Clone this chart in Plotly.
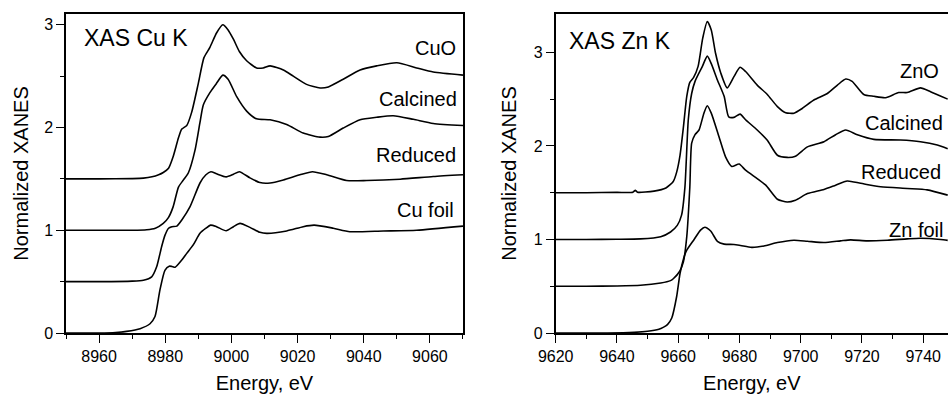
import plotly.graph_objects as go
from plotly.subplots import make_subplots

# ---------------- Cu K edge data (energy eV, normalized XANES, offset included) ----------------
cu_cuo_E = [8950, 8960, 8970, 8973.4, 8976, 8978, 8979.4, 8981, 8982.4, 8984, 8985, 8986.5, 8988, 8990,
            8991.7, 8993.5, 8995.5, 8997.4, 8999, 9000.6, 9002.4, 9004.6, 9007.6, 9009.6, 9011.7,
            9015.7, 9018.7, 9022.7, 9026.8, 9029.3, 9033.8, 9038.9, 9043.9, 9050, 9056, 9061, 9070]
cu_cuo_y = [1.50, 1.50, 1.503, 1.507, 1.52, 1.54, 1.562, 1.604, 1.718, 1.90, 1.985, 2.02, 2.15, 2.43,
            2.68, 2.78, 2.92, 3.00, 2.95, 2.86, 2.74, 2.65, 2.58, 2.58, 2.60,
            2.56, 2.50, 2.42, 2.385, 2.395, 2.47, 2.56, 2.60, 2.63, 2.58, 2.54, 2.51]

cu_calc_E = [8950, 8960, 8970, 8974.4, 8977, 8979.4, 8981, 8982.4, 8984, 8985.5, 8987, 8989, 8990.5,
             8991.5, 8993.5, 8995.5, 8997.4, 8999, 9001.6, 9004.6, 9007.6, 9011.7, 9016.7, 9021.7,
             9026.8, 9029.3, 9033.8, 9038.9, 9043.9, 9048.9, 9055, 9061, 9070]
cu_calc_y = [1.00, 1.00, 1.00, 1.005, 1.02, 1.067, 1.126, 1.23, 1.42, 1.49, 1.56, 1.78, 2.05,
             2.22, 2.34, 2.43, 2.51, 2.47, 2.30, 2.16, 2.085, 2.075, 2.03, 1.946,
             1.907, 1.913, 1.995, 2.076, 2.10, 2.115, 2.08, 2.04, 2.02]

cu_red_E = [8950, 8960, 8970, 8973.4, 8975.9, 8977.4, 8978.9, 8979.9, 8981, 8982, 8983.5, 8985,
            8987.5, 8990.5, 8992.3, 8993.8, 8995.5, 8998.4, 9000.6, 9002.4, 9005.6, 9008.6, 9011.7,
            9015.7, 9020.7, 9024.5, 9028.8, 9034.8, 9040.9, 9051, 9061, 9070]
cu_red_y = [0.50, 0.50, 0.505, 0.514, 0.547, 0.644, 0.84, 0.95, 1.02, 1.035, 1.04, 1.10,
            1.23, 1.46, 1.54, 1.57, 1.55, 1.52, 1.545, 1.57, 1.51, 1.464, 1.46,
            1.49, 1.54, 1.57, 1.54, 1.484, 1.484, 1.497, 1.523, 1.54]

cu_foil_E = [8950, 8960, 8965, 8968.3, 8972.4, 8975.4, 8976.9, 8978.4, 8979.9, 8981.2, 8982, 8983,
             8985, 8986.5, 8988.5, 8990.5, 8992.3, 8993.7, 8995.5, 8998.4, 9000.6, 9002.6, 9005.6,
             9008.6, 9010.7, 9016.7, 9021.7, 9025, 9030.8, 9035.8, 9045.9, 9056, 9070]
cu_foil_y = [0.00, 0.00, 0.005, 0.016, 0.042, 0.09, 0.16, 0.42, 0.61, 0.65, 0.648, 0.64,
             0.71, 0.775, 0.86, 0.97, 1.02, 1.05, 1.035, 0.995, 1.035, 1.067, 1.028,
             0.98, 0.97, 0.993, 1.035, 1.05, 1.02, 0.986, 0.993, 1.00, 1.04]

# ---------------- Zn K edge data ----------------
zn_zno_E = [9620, 9630, 9640, 9645.2, 9646, 9646.7, 9652.1, 9656, 9658.4, 9659.5, 9660.6, 9661.7,
            9662.8, 9663.8, 9665, 9666.5, 9668, 9669.5, 9670.8, 9672.2, 9673.9, 9676.0, 9678.2,
            9680.2, 9682, 9685.8, 9689.1, 9692.4, 9695.1, 9697.8, 9700.5, 9704.3, 9708.7, 9712,
            9714.7, 9716.8, 9720.6, 9723.9, 9727.7, 9732, 9734.8, 9739.1, 9742.4, 9748]
zn_zno_y = [1.50, 1.50, 1.503, 1.505, 1.525, 1.505, 1.517, 1.55, 1.62, 1.72, 1.90, 2.20,
            2.53, 2.68, 2.73, 2.85, 3.15, 3.33, 3.24, 2.99, 2.78, 2.62, 2.74,
            2.84, 2.795, 2.65, 2.55, 2.42, 2.355, 2.35, 2.40, 2.49, 2.56, 2.65,
            2.715, 2.69, 2.55, 2.53, 2.515, 2.57, 2.57, 2.62, 2.58, 2.50]

zn_calc_E = [9620, 9630, 9640, 9647.7, 9654.3, 9657.5, 9659.7, 9661.1, 9662.2, 9663.3, 9664.4,
             9665.5, 9667.9, 9669.5, 9670.8, 9672.8, 9675, 9676.5, 9678.2, 9680.2, 9682, 9685.8,
             9689.1, 9692.4, 9695.6, 9698.3, 9702.2, 9707.6, 9711.4, 9714.7, 9718.5, 9723.9,
             9732.6, 9739.1, 9744.6, 9748]
zn_calc_y = [1.00, 1.00, 1.002, 1.006, 1.03, 1.08, 1.15, 1.26, 1.56, 2.28, 2.56,
             2.69, 2.85, 2.96, 2.88, 2.705, 2.53, 2.31, 2.305, 2.34, 2.28, 2.17,
             2.06, 1.90, 1.877, 1.89, 1.99, 2.045, 2.12, 2.17, 2.12, 2.07,
             2.063, 2.045, 2.01, 1.97]

zn_red_E = [9620, 9630, 9640, 9647.7, 9654.3, 9657.5, 9658.4, 9660.5, 9661.7, 9662.8, 9663.8,
            9664.4, 9665.5, 9666.8, 9668.4, 9669.5, 9670.8, 9673.3, 9675.5, 9677.5, 9679.9,
            9682, 9685.8, 9688.6, 9692.4, 9695.6, 9698.3, 9702.2, 9707.6, 9711.4, 9715.2,
            9719.6, 9726.1, 9734.8, 9741.3, 9748]
zn_red_y = [0.50, 0.50, 0.503, 0.51, 0.535, 0.56, 0.58, 0.66, 0.76, 1.03, 1.56,
            2.03, 2.12, 2.17, 2.35, 2.43, 2.35, 2.10, 1.88, 1.78, 1.806,
            1.74, 1.65, 1.58, 1.43, 1.40, 1.42, 1.49, 1.535, 1.58, 1.625,
            1.60, 1.563, 1.545, 1.53, 1.474]

zn_foil_E = [9620, 9630, 9637, 9645.6, 9650, 9653.7, 9655.1, 9656.5, 9657.9, 9659.5, 9660.6,
             9661.8, 9662.8, 9665.2, 9667.3, 9668.7, 9670.6, 9672.8, 9675, 9678.2, 9680.4,
             9684, 9688, 9692.4, 9697.8, 9702.2, 9707.6, 9713, 9716.3, 9721.7, 9728.3,
             9734.8, 9739.1, 9745.7, 9748]
zn_foil_y = [0.00, 0.00, 0.00, 0.007, 0.018, 0.04, 0.06, 0.09, 0.16, 0.39, 0.636,
             0.80, 0.885, 1.00, 1.10, 1.13, 1.09, 0.98, 0.95, 0.946, 0.935,
             0.915, 0.93, 0.967, 0.992, 0.981, 0.967, 0.985, 0.996, 0.985, 0.992,
             1.006, 1.013, 1.00, 0.99]

cu_series = [(cu_cuo_E, cu_cuo_y, "CuO"), (cu_calc_E, cu_calc_y, "Calcined"),
             (cu_red_E, cu_red_y, "Reduced"), (cu_foil_E, cu_foil_y, "Cu foil")]
zn_series = [(zn_zno_E, zn_zno_y, "ZnO"), (zn_calc_E, zn_calc_y, "Calcined"),
             (zn_red_E, zn_red_y, "Reduced"), (zn_foil_E, zn_foil_y, "Zn foil")]

# label positions (energy of right edge, y)
cu_label_x = [9068.5, 9068.8, 9068.5, 9068.0]
cu_label_y = [2.77, 2.28, 1.73, 1.20]
zn_label_x = [9745.8, 9747.0, 9746.4, 9747.0]
zn_label_y = [2.80, 2.25, 1.72, 1.10]

FONT = "Arial, 'Liberation Sans', sans-serif"

fig = make_subplots(rows=1, cols=2, horizontal_spacing=0.1)

for E, y, name in cu_series:
    fig.add_trace(go.Scatter(x=E, y=y, mode="lines", name=name,
                             line=dict(color="black", width=1.6, shape="spline", smoothing=0.6),
                             showlegend=False), row=1, col=1)
for E, y, name in zn_series:
    fig.add_trace(go.Scatter(x=E, y=y, mode="lines", name=name,
                             line=dict(color="black", width=1.6, shape="spline", smoothing=0.6),
                             showlegend=False), row=1, col=2)

annotations = []
for (E, y, name), lx, ly in zip(cu_series, cu_label_x, cu_label_y):
    annotations.append(dict(x=lx, y=ly, xref="x", yref="y", text=name, showarrow=False,
                            xanchor="right", yanchor="middle", font=dict(size=20, color="black", family=FONT)))
for (E, y, name), lx, ly in zip(zn_series, zn_label_x, zn_label_y):
    annotations.append(dict(x=lx, y=ly, xref="x2", yref="y2", text=name, showarrow=False,
                            xanchor="right", yanchor="middle", font=dict(size=20, color="black", family=FONT)))
annotations.append(dict(x=8954.8, y=2.87, xref="x", yref="y", text="XAS Cu K", showarrow=False,
                        xanchor="left", yanchor="middle", font=dict(size=23, color="black", family=FONT)))
annotations.append(dict(x=9623.6, y=3.12, xref="x2", yref="y2", text="XAS Zn K", showarrow=False,
                        xanchor="left", yanchor="middle", font=dict(size=23, color="black", family=FONT)))

axis_common = dict(showline=True, linecolor="black", linewidth=1.5, mirror=True,
                   ticks="outside", ticklen=8, tickwidth=1.2, tickcolor="black",
                   showgrid=False, zeroline=False,
                   tickfont=dict(size=16, color="black", family=FONT))

fig.update_xaxes(**axis_common)
fig.update_yaxes(**axis_common)

fig.update_xaxes(range=[8950, 9070], tick0=8960, dtick=20, domain=[0, 0.4501],
                 minor=dict(ticks="outside", ticklen=4, tickwidth=1.2, tickcolor="black", dtick=10, tick0=8950),
                 title=dict(text="Energy, eV", font=dict(size=20, color="black", family=FONT), standoff=12),
                 row=1, col=1)
fig.update_xaxes(range=[9620, 9748.1], tick0=9620, dtick=20, domain=[0.5552, 1.0],
                 minor=dict(ticks="outside", ticklen=4, tickwidth=1.2, tickcolor="black", dtick=10, tick0=9620),
                 title=dict(text="Energy, eV", font=dict(size=20, color="black", family=FONT), standoff=12),
                 row=1, col=2)
fig.update_yaxes(range=[0, 3.105], tick0=0, dtick=1,
                 minor=dict(ticks="outside", ticklen=4, tickwidth=1.2, tickcolor="black", dtick=0.5),
                 title=dict(text="Normalized XANES", font=dict(size=20, color="black", family=FONT), standoff=10),
                 row=1, col=1)
fig.update_yaxes(range=[0, 3.41], tick0=0, dtick=1, mirror=False,
                 minor=dict(ticks="outside", ticklen=4, tickwidth=1.2, tickcolor="black", dtick=0.5),
                 title=dict(text="Normalized XANES", font=dict(size=20, color="black", family=FONT), standoff=12),
                 row=1, col=2)

fig.update_layout(width=948, height=394, margin=dict(l=66, r=0, t=14, b=61),
                  paper_bgcolor="white", plot_bgcolor="white",
                  annotations=annotations, font=dict(family=FONT, color="black"))

fig.write_html("out.html")
